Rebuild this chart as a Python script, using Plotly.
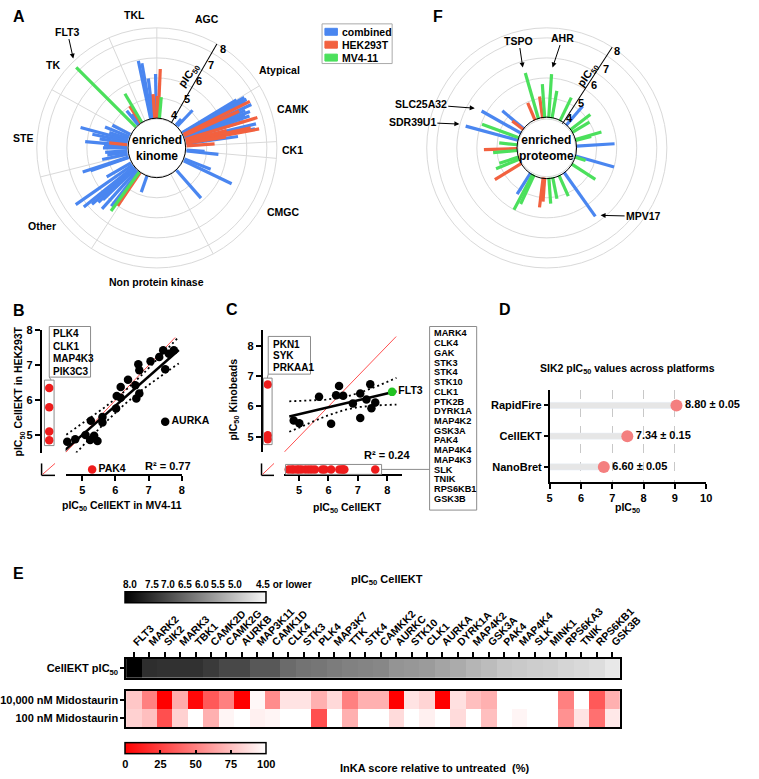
import numpy as np
import plotly.graph_objects as go

W, H = 759, 779
FONT = "Liberation Sans, Arial, Helvetica, sans-serif"
BLUE, RED, GREEN = "#4a86f0", "#f2613f", "#4be05c"
GRID = "#d9d9d9"
BOXLINE = "#8c8c8c"
DOTRED = "#ee1c1c"


def px(x):
    return x / W


def py(y):
    return 1 - y / H


# ---------------- DATA ----------------
# Panel A: enriched kinome (angle slot in degrees, pIC50)
a_spokes = [0, 58.8, 87, 95, 152, 213, 256, 299, 336.5]
a_group_names = ["TKL", "AGC", "Atypical", "CAMK", "CK1", "CMGC",
                 "Non protein kinase", "Other", "STE", "TK"]
a_combined_theta = [348, 350, 353, 359, 321, 324, 43.5, 40, 58.9, 60, 61.5, 63, 65.3, 67,
                    68.6, 70, 71, 73, 76.4, 79, 82, 96, 94, 111.6, 115.6, 138.7, 199.4,
                    218, 222, 226, 227, 229, 231, 235, 240, 251, 252, 258, 262, 265, 270,
                    273, 275, 279, 282, 285, 288, 292, 297]
a_combined_pic50 = [6.95, 6.8, 6.0, 6.2, 4.9, 4.6, 5.1, 4.4, 7.15, 7.55, 7.6, 7.5, 7.7, 7.3,
                    7.5, 7.2, 7.4, 7.0, 7.6, 7.5, 6.6, 5.6, 4.9, 5.4, 6.65, 5.85, 4.85,
                    6.2, 6.6, 6.25, 6.5, 6.8, 7.2, 7.45, 5.4, 6.0, 6.4, 5.3, 5.0, 5.1, 5.2,
                    5.15, 6.1, 5.4, 5.8, 6.45, 5.0, 5.3, 5.0]
a_hek_theta = [327, 356, 0.5, 2.5, 63.4, 66, 73.2, 76, 78, 79.5, 80.9, 86, 214, 276]
a_hek_pic50 = [5.0, 5.2, 5.1, 6.45, 7.7, 7.0, 7.75, 6.1, 7.3, 7.7, 6.0, 5.4, 6.0, 4.9]
a_mv_theta = [315, 329.5, 5, 216]
a_mv_pic50 = [8.2, 5.65, 5.05, 6.4]
radial_tick_labels = ["4", "5", "6", "7", "8"]

# Panel F: enriched proteome
f_combined_theta = [40.7, 86.5, 105.8, 144.7, 212.7, 285, 299.5, 309.8]
f_combined_pic50 = [5.25, 5.9, 6.0, 6.7, 5.25, 6.7, 6.25, 5.4]
f_hek_theta = [337, 352, 184, 187, 238.5, 268.5, 308]
f_hek_pic50 = [4.95, 5.1, 5.2, 5.5, 5.55, 5.65, 4.7]
f_mv_theta = [344, 3.7, 356, 10, 26, 52.5, 58.8, 73.8, 75.6, 108, 123, 156, 168.7, 176,
              205, 208, 247.6, 252, 265, 276, 290]
f_mv_pic50 = [6.4, 6.2, 5.7, 5.4, 5.3, 5.25, 5.0, 5.35, 4.8, 4.55, 5.4, 5.15, 5.1, 5.3,
              5.6, 6.0, 5.25, 5.0, 5.2, 4.9, 5.95]

# Panel B: CellEKT MV4-11 vs HEK293T
b_mv411 = [4.55, 4.79, 5.10, 5.26, 5.24, 5.36, 5.46, 5.61, 5.61, 6.02, 6.04, 6.16, 6.16,
           6.38, 6.60, 6.63, 6.72, 6.69, 6.72, 7.06, 7.32, 7.44, 7.50, 7.61, 7.76]
b_hek = [4.81, 4.88, 5.00, 5.41, 4.86, 4.98, 4.83, 5.36, 5.52, 5.76, 6.12, 6.07, 6.38,
         6.59, 6.43, 6.05, 6.19, 7.03, 6.86, 7.12, 7.24, 7.43, 6.89, 7.33, 7.43]
b_aurka = [7.50, 5.38]
b_hek_only_names = ["PLK4", "CLK1", "MAP4K3", "PIK3C3"]
b_hek_only = [6.35, 5.80, 5.10, 4.85]
b_mv_only_names = ["PAK4"]
b_mv_only = [5.30]
b_r2 = "0.77"

# Panel C: CellEKT vs Kinobeads
c_cellekt = [4.82, 5.01, 5.68, 6.09, 6.26, 6.36, 6.50, 6.83, 7.08, 7.08, 7.29, 7.42,
             7.46, 7.59]
c_kinobeads = [5.54, 5.45, 6.32, 5.43, 6.37, 6.67, 6.35, 6.10, 6.43, 5.62, 6.23, 6.73,
               5.94, 6.13]
c_flt3 = [8.16, 6.48]
c_kino_only_names = ["PKN1", "SYK", "PRKAA1"]
c_kino_only = [6.72, 5.05, 4.92]
c_cell_only_names = ["MARK4", "CLK4", "GAK", "STK3", "STK4", "STK10", "CLK1", "PTK2B",
                     "DYRK1A", "MAP4K2", "GSK3A", "PAK4", "MAP4K4", "MAP4K3", "SLK",
                     "TNIK", "RPS6KB1", "GSK3B"]
c_cell_only = [4.65, 4.75, 4.82, 4.93, 5.00, 5.09, 5.22, 5.33, 5.43, 5.54, 5.79, 5.87,
               6.09, 6.37, 6.45, 6.50, 6.54, 7.59]
c_r2 = "0.24"

# Panel D: SIK2 across platforms
d_platforms = ["RapidFire", "CellEKT", "NanoBret"]
d_mean = [8.80, 7.34, 6.60]
d_sem = [0.05, 0.15, 0.05]
d_dot = [9.05, 7.48, 6.73]

# Panel E: heatmap
e_kinases = ["FLT3", "MARK2", "SIK2", "MARK3", "TBK1", "CAMK2D", "CAMK2G", "AURKB",
             "MAP3K11", "CAMK1D", "CLK4", "STK3", "PLK4", "MAP3K7", "TTK", "STK4",
             "CAMKK2", "AURKC", "STK10", "CLK1", "AURKA", "DYRK1A", "MAP4K2", "GSK3A",
             "PAK4", "MAP4K4", "SLK", "MINK1", "RPS6KA3", "TNIK", "RPS6KB1", "GSK3B"]
e_cellekt_pic50 = [8.1, 7.35, 7.3, 7.3, 7.3, 7.18, 6.98, 6.98, 6.76, 6.76, 6.49, 6.37,
                   6.33, 6.24, 6.17, 6.13, 6.08, 5.9, 5.86, 5.8, 5.67, 5.58, 5.43, 5.34,
                   5.2, 5.15, 5.09, 5.06, 4.98, 4.93, 4.87, 4.71]
e_inka_10000 = [78, 50, 0, 67, 3, 35, 50, 0, 97, 55, 89, 89, 69, 85, 50, 69, 69, 0, 89,
                83, 0, 88, 75, 69, 100, 100, 100, 100, 50, 100, 35, 69]
e_inka_100 = [82, 75, 31, 82, 100, 69, 96, 100, 94, 96, 100, 100, 31, 100, 69, 100, 100,
              86, 100, 94, 100, 86, 100, 75, 100, 96, 100, 100, 57, 89, 44, 91]
e_gray_labels = ["8.0", "7.5", "7.0", "6.5", "6.0", "5.5", "5.0", "4.5 or lower"]
e_row_labels = ["100 nM Midostaurin", "10,000 nM Midostaurin"]

# ---------------- FIGURE ----------------
fig = go.Figure()
RBASE = 4  # lowest pIC50 shown on the radial axis


def radial_bars(theta, vals):
    r, t = [], []
    for th, v in zip(theta, vals):
        r += [RBASE, v, None]
        t += [th, th, None]
    return r, t


for sub, series in [("polar", [(a_combined_theta, a_combined_pic50, BLUE),
                               (a_hek_theta, a_hek_pic50, RED),
                               (a_mv_theta, a_mv_pic50, GREEN)]),
                    ("polar2", [(f_combined_theta, f_combined_pic50, BLUE),
                                (f_hek_theta, f_hek_pic50, RED),
                                (f_mv_theta, f_mv_pic50, GREEN)])]:
    for th, vals, col in series:
        r, t = radial_bars(th, vals)
        fig.add_trace(go.Scatterpolar(r=r, theta=t, mode="lines", subplot=sub,
                                      line=dict(color=col, width=3.2),
                                      connectgaps=False, hoverinfo="skip"))


def fit_band(x, y, tval):
    x = np.asarray(x, float)
    y = np.asarray(y, float)
    b, a = np.polyfit(x, y, 1)
    xs = np.linspace(x.min() - 0.15, x.max() + 0.15, 60)
    n = len(x)
    s = np.sqrt(np.sum((y - (a + b * x)) ** 2) / (n - 2))
    sxx = np.sum((x - x.mean()) ** 2)
    se = s * np.sqrt(1 / n + (xs - x.mean()) ** 2 / sxx)
    yh = a + b * xs
    return xs, yh, yh - tval * se, yh + tval * se


DOTTED = "2px,3px"

# ---- Panel B
bx_all = b_mv411 + [b_aurka[0]]
by_all = b_hek + [b_aurka[1]]
xs, yh, lo, hi = fit_band(bx_all, by_all, 2.06)
fig.add_trace(go.Scatter(x=[4.5, 7.8], y=[4.5, 7.8], mode="lines", xaxis="x", yaxis="y",
                         line=dict(color="#ff5050", width=1), hoverinfo="skip"))
for yy in (lo, hi):
    fig.add_trace(go.Scatter(x=xs, y=yy, mode="lines", xaxis="x", yaxis="y",
                             line=dict(color="black", width=1.8, dash=DOTTED),
                             hoverinfo="skip"))
fig.add_trace(go.Scatter(x=xs, y=yh, mode="lines", xaxis="x", yaxis="y",
                         line=dict(color="black", width=2.5), hoverinfo="skip"))
fig.add_trace(go.Scatter(x=b_mv411, y=b_hek, mode="markers", xaxis="x", yaxis="y",
                         marker=dict(color="black", size=8.5), cliponaxis=False))
fig.add_trace(go.Scatter(x=[b_aurka[0]], y=[b_aurka[1]], mode="markers+text", xaxis="x",
                         yaxis="y", text=["AURKA"], textposition="middle right",
                         marker=dict(color="black", size=8.5), cliponaxis=False,
                         textfont=dict(size=10.5)))
fig.add_trace(go.Scatter(x=["nd"] * len(b_hek_only), y=b_hek_only, mode="markers",
                         xaxis="x2", yaxis="y", marker=dict(color=DOTRED, size=8.5),
                         cliponaxis=False))
fig.add_trace(go.Scatter(x=b_mv_only, y=["nd"] * len(b_mv_only), mode="markers+text",
                         xaxis="x", yaxis="y2", text=b_mv_only_names,
                         textposition="middle right", marker=dict(color=DOTRED, size=8.5),
                         cliponaxis=False, textfont=dict(size=10.5)))

# ---- Panel C
xs, yh, lo, hi = fit_band(c_cellekt + [c_flt3[0]], c_kinobeads + [c_flt3[1]], 2.13)
fig.add_trace(go.Scatter(x=[4.5, 8.3], y=[4.5, 8.3], mode="lines", xaxis="x3", yaxis="y3",
                         line=dict(color="#ff5050", width=1), hoverinfo="skip"))
for yy in (lo, hi):
    fig.add_trace(go.Scatter(x=xs, y=yy, mode="lines", xaxis="x3", yaxis="y3",
                             line=dict(color="black", width=1.8, dash=DOTTED),
                             hoverinfo="skip"))
fig.add_trace(go.Scatter(x=xs, y=yh, mode="lines", xaxis="x3", yaxis="y3",
                         line=dict(color="black", width=2.5), hoverinfo="skip"))
fig.add_trace(go.Scatter(x=c_cellekt, y=c_kinobeads, mode="markers", xaxis="x3", yaxis="y3",
                         marker=dict(color="black", size=8.5), cliponaxis=False))
fig.add_trace(go.Scatter(x=[c_flt3[0]], y=[c_flt3[1]], mode="markers+text", xaxis="x3",
                         yaxis="y3", text=["FLT3"], textposition="middle right",
                         marker=dict(color="#22c322", size=8.5), cliponaxis=False,
                         textfont=dict(size=10.5)))
fig.add_trace(go.Scatter(x=["nd"] * len(c_kino_only), y=c_kino_only, mode="markers",
                         xaxis="x4", yaxis="y3", marker=dict(color=DOTRED, size=8.5),
                         cliponaxis=False))
fig.add_trace(go.Scatter(x=c_cell_only, y=["nd"] * len(c_cell_only), mode="markers",
                         xaxis="x3", yaxis="y4", marker=dict(color=DOTRED, size=8.5),
                         cliponaxis=False))

# ---- Panel D
fig.add_trace(go.Bar(y=d_platforms, x=[v - 5 for v in d_dot], base=5, orientation="h",
                     xaxis="x5", yaxis="y5", width=0.2, marker=dict(color="#e6e6e6"),
                     hoverinfo="skip"))
fig.add_trace(go.Scatter(y=d_platforms, x=d_dot, mode="markers+text", xaxis="x5",
                         yaxis="y5", marker=dict(color="#f47f7f", size=12),
                         text=[f"{m:.2f} ± {s:.2f}" for m, s in zip(d_mean, d_sem)],
                         textposition="middle right", textfont=dict(size=11),
                         cliponaxis=False))

# ---- Panel E
fig.add_trace(go.Heatmap(z=[[-v for v in e_cellekt_pic50]], x=e_kinases,
                         y=["CellEKT pIC<sub>50</sub>"], xaxis="x6", yaxis="y6",
                         colorscale=[[0, "#000000"], [1, "#f7f7f7"]], zmin=-8, zmax=-4.5,
                         hoverinfo="skip",
                         colorbar=dict(orientation="h", x=px(196.5), xanchor="center",
                                       y=py(596.5), yanchor="middle", len=141,
                                       lenmode="pixels", thickness=11, outlinewidth=1.5,
                                       outlinecolor="black", showticklabels=False,
                                       ticks="", xpad=0, ypad=0)))
fig.add_trace(go.Heatmap(z=[e_inka_100, e_inka_10000], x=e_kinases, y=e_row_labels,
                         xaxis="x7", yaxis="y7",
                         colorscale=[[0, "#ff0000"], [1, "#ffffff"]], zmin=0, zmax=100,
                         hoverinfo="skip",
                         colorbar=dict(orientation="h", x=px(196.5), xanchor="center",
                                       y=py(758.5), yanchor="middle", len=141,
                                       lenmode="pixels", thickness=11, outlinewidth=1.5,
                                       outlinecolor="black", tickvals=[0, 25, 50, 75, 100],
                                       ticks="inside", ticklen=4, tickcolor="black",
                                       tickwidth=1.5,
                                       tickfont=dict(size=11, family=FONT, color="black",
                                                     weight="bold"),
                                       xpad=0, ypad=0)))

# ---------------- LAYOUT ----------------
tickfont = dict(family=FONT, size=11, color="black", weight="bold")


def lin_axis(**kw):
    d = dict(showline=True, linecolor="black", linewidth=1.5, ticks="outside", ticklen=5,
             tickwidth=1.5, tickcolor="black", showgrid=False, zeroline=False,
             tickfont=tickfont)
    d.update(kw)
    return d


def polar_cfg(domx, angle, spokes):
    return dict(
        domain=dict(x=[px(domx[0]), px(domx[1])], y=[py(268), py(18)]),
        bgcolor="rgba(0,0,0,0)", hole=0.24,
        radialaxis=dict(range=[3.95, 8.5], tickvals=[4, 5, 6, 7, 8], angle=angle,
                        showticklabels=False,
                        showline=True, linecolor="black", linewidth=1, gridcolor=GRID,
                        ticks=""),
        angularaxis=dict(rotation=90, direction="clockwise", showticklabels=False,
                         ticks="", showline=True, linecolor=GRID,
                         tickvals=spokes if spokes else [0],
                         showgrid=bool(spokes), gridcolor=GRID))


ticks_b = dict(tickvals=[5, 6, 7, 8])

layout = dict(
    width=W, height=H, autosize=False, margin=dict(l=0, r=0, t=0, b=0),
    paper_bgcolor="white", plot_bgcolor="rgba(0,0,0,0)", showlegend=False,
    font=dict(family=FONT, size=11, color="black", weight="bold"),
    polar=polar_cfg((31, 281), 60, a_spokes),
    polar2=polar_cfg((437, 687), 57, None),
    xaxis=lin_axis(domain=[px(61), px(182)], range=[4.5, 8], anchor="free",
                   position=py(473), **ticks_b),
    yaxis=lin_axis(domain=[py(450), py(327)], range=[4.5, 8], anchor="free",
                   position=px(35), **ticks_b),
    xaxis2=dict(domain=[px(39), px(49)], anchor="y", visible=False, type="category"),
    yaxis2=dict(domain=[py(472), py(462)], anchor="x", visible=False, type="category"),
    xaxis3=lin_axis(domain=[px(288.7), px(411.3)], range=[4.5, 8.5], anchor="free",
                    position=py(473), **ticks_b),
    yaxis3=lin_axis(domain=[py(449.5), py(327)], range=[4.5, 8.5], anchor="free",
                    position=px(265), **ticks_b),
    xaxis4=dict(domain=[px(267), px(276)], anchor="y3", visible=False, type="category"),
    yaxis4=dict(domain=[py(472), py(462)], anchor="x3", visible=False, type="category"),
    xaxis5=lin_axis(domain=[px(565), px(728)], range=[5, 10], anchor="y5",
                    tickvals=[5, 6, 7, 8, 9, 10], showgrid=True, gridcolor="#c8c8c8",
                    griddash="dash", gridwidth=1),
    yaxis5=lin_axis(domain=[py(480), py(387)], anchor="x5", type="category",
                    categoryorder="array", categoryarray=d_platforms[::-1],
                    range=[-0.5, 2.5], ticklen=4),
    xaxis6=dict(domain=[px(124), px(638)], anchor="y6", side="top", type="category",
                tickangle=-45, ticks="outside", ticklen=5, tickwidth=1.5,
                tickcolor="black", showline=True, mirror=True, linecolor="black",
                linewidth=1.5, showgrid=False, tickfont=dict(family=FONT, size=10.5,
                                                            color="black", weight="bold")),
    yaxis6=dict(domain=[py(677), py(658)], anchor="x6", ticks="outside", ticklen=4,
                tickwidth=1.5, tickcolor="black", showline=True, mirror=True,
                linecolor="black", linewidth=1.5, showgrid=False, tickfont=tickfont),
    xaxis7=dict(domain=[px(124), px(638)], anchor="y7", type="category",
                showticklabels=False, ticks="", showline=True, mirror=True,
                linecolor="black", linewidth=1.5, showgrid=False),
    yaxis7=dict(domain=[py(727), py(690)], anchor="x7", type="category",
                categoryorder="array", categoryarray=e_row_labels, ticks="outside",
                ticklen=4, tickwidth=1.5, tickcolor="black", showline=True, mirror=True,
                linecolor="black", linewidth=1.5, showgrid=False, tickfont=tickfont),
)

ann = []


def text(t, x, y, size=11, xanchor="center", yanchor="middle", angle=0):
    ann.append(dict(text=t, x=px(x), y=py(y), xref="paper", yref="paper",
                    showarrow=False, xanchor=xanchor, yanchor=yanchor, textangle=angle,
                    font=dict(family=FONT, size=size, color="black", weight="bold")))


def arrow(t, tx, ty, hx, hy, size=10.5):
    ann.append(dict(text=t, x=px(hx), y=py(hy), xref="paper", yref="paper",
                    ax=tx - hx, ay=ty - hy, showarrow=True, arrowhead=2, arrowsize=1,
                    arrowwidth=1, arrowcolor="black",
                    font=dict(family=FONT, size=size, color="black", weight="bold")))


# panel letters
for letter, x, y in [("A", 12, 11), ("F", 449, 11), ("B", 12, 307), ("C", 234, 306),
                     ("D", 519, 306), ("E", 12, 572)]:
    text(letter, x, y, size=16)

# Panel A texts
a_label_pos = [(133, 9), (208, 13), (284, 64), (298, 104), (297, 145), (287, 208),
               (156, 278), (36, 222), (17, 133), (48, 59)]
for name, (x, y) in zip(a_group_names, a_label_pos):
    text(name, x, y, size=10.5)
text("enriched<br>kinome", 156, 143, size=12)
text("pIC<sub>50</sub>", 190, 70, size=11, angle=-55)
for lab, (x, y) in zip(radial_tick_labels,
                       [(174, 110), (187, 94), (200, 76), (212, 59), (225, 43)]):
    text(lab, x, y, size=11)
arrow("FLT3", 63, 26, 69, 53)
# legend
for i, (lab, col) in enumerate([("combined", BLUE), ("HEK293T", RED), ("MV4-11", GREEN)]):
    yy = 26 + i * 13
    text(lab, 347, yy, size=10.5, xanchor="left")

# Panel F texts
text("enriched<br>proteome", 562, 143, size=12)
text("pIC<sub>50</sub>", 605, 70, size=11, angle=-55)
for lab, (x, y) in zip(radial_tick_labels,
                       [(586, 113), (598, 98), (611, 80), (624, 63), (635, 45)]):
    text(lab, x, y, size=11)
arrow("TSPO", 533, 35, 537, 62)
arrow("AHR", 578, 32, 568, 62)
arrow("SLC25A32", 433, 99, 487, 103)
arrow("SDR39U1", 424, 117, 471, 119)
arrow("MPV17", 661, 212, 618, 211)

# Panel B texts
for i, n in enumerate(b_hek_only_names):
    text(n, 46, 330 + i * 12.7, size=10, xanchor="left")
text(f"R² = {b_r2}", 168, 464, size=11)
text("pIC<sub>50</sub> CellEKT in MV4-11", 120, 504, size=10.5)
text("pIC<sub>50</sub> CellEKT in HEK293T", 13, 388, size=10.5, angle=-90)

# Panel C texts
for i, n in enumerate(c_kino_only_names):
    text(n, 275, 341 + i * 11.6, size=10, xanchor="left")
for i, n in enumerate(c_cell_only_names):
    text(n, 443, 330 + i * 9.8, size=9.2, xanchor="left")
text(f"R² = {c_r2}", 396, 452, size=11)
text("pIC<sub>50</sub> CellEKT", 355, 506, size=10.5)
text("pIC<sub>50</sub> Kinobeads", 236, 397, size=10.5, angle=-90)

# Panel D texts
text("SIK2 pIC<sub>50</sub> values across platforms", 646, 366, size=10.5)
text("pIC<sub>50</sub>", 646, 506, size=10.5)

# Panel E texts
gray_label_x = [128, 151, 168, 185, 203, 220, 237, 288]
for lab, x in zip(e_gray_labels, gray_label_x):
    text(lab, x, 583, size=10)
text("pIC<sub>50</sub> CellEKT", 396, 578, size=11)
text("InKA score relative to untreated  (%)", 445, 768, size=11)

layout["annotations"] = ann

shapes = []


def rect(x0, y0, x1, y1, color=BOXLINE, fill=None, width=1):
    shapes.append(dict(type="rect", xref="paper", yref="paper", x0=px(x0), x1=px(x1),
                       y0=py(y1), y1=py(y0), line=dict(color=color, width=width),
                       fillcolor=fill if fill else "rgba(0,0,0,0)", layer="above"))


def line(x0, y0, x1, y1, color="black", width=1):
    shapes.append(dict(type="line", xref="paper", yref="paper", x0=px(x0), x1=px(x1),
                       y0=py(y0), y1=py(y1), line=dict(color=color, width=width),
                       layer="above"))


def circle(cx, cy, r):
    shapes.append(dict(type="circle", xref="paper", yref="paper", x0=px(cx - r),
                       x1=px(cx + r), y0=py(cy + r), y1=py(cy - r),
                       line=dict(color="black", width=1), layer="above"))


circle(156, 143, 30)
circle(562, 143, 31)
# legend A
rect(328, 18, 401, 58, color="#aaaaaa")
for i, col in enumerate([BLUE, RED, GREEN]):
    yy = 26 + i * 13
    rect(331, yy - 3.5, 344, yy + 3.5, color=col, fill=col)
# B boxes
rect(44, 323, 87, 374)
rect(39, 377, 49, 443)
line(44, 374, 46, 377, color=BOXLINE)
line(36, 461, 36, 473, width=1.5)
line(36, 473, 50, 473, width=1.5)
line(37, 472, 50, 461, color="#ff5050")
# C boxes
rect(272, 333, 316, 371)
rect(267, 375, 276, 442)
line(272, 371, 271, 375, color=BOXLINE)
rect(290, 462, 390, 472)
line(390, 467, 440, 467, color=BOXLINE)
rect(440, 323, 489, 508)
line(265, 461, 265, 473, width=1.5)
line(265, 473, 278, 473, width=1.5)
line(266, 472, 278, 461, color="#ff5050")
layout["shapes"] = shapes

fig.update_layout(**layout)
fig.write_html("out.html", config={"displayModeBar": False},
               post_script="document.body.style.margin='0';"
                           "document.body.style.overflow='hidden';")
